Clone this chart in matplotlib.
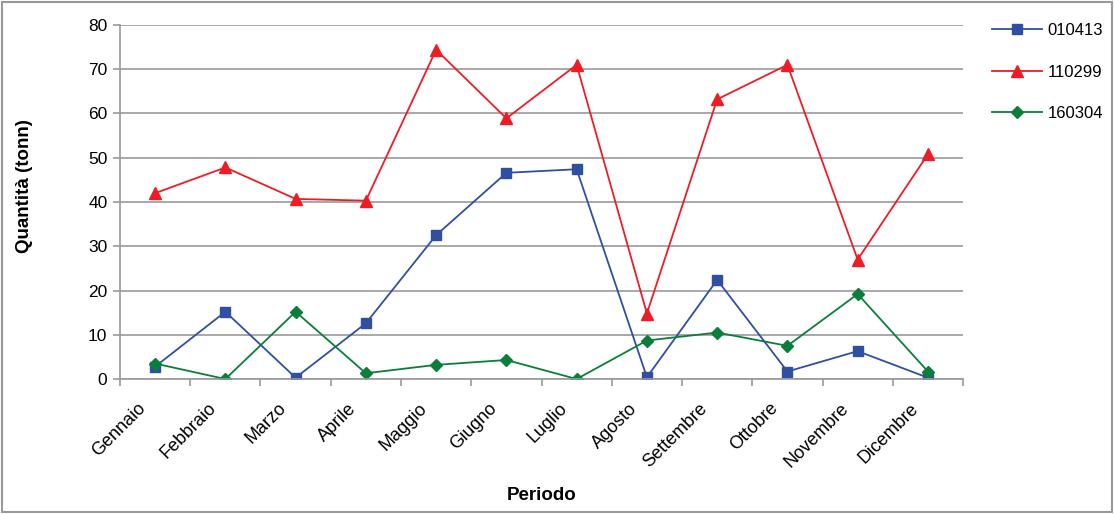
import matplotlib.pyplot as plt
import matplotlib.transforms as mtransforms
from matplotlib.patches import Rectangle

# Monthly quantities per waste code
mesi = ['Gennaio', 'Febbraio', 'Marzo', 'Aprile', 'Maggio', 'Giugno',
        'Luglio', 'Agosto', 'Settembre', 'Ottobre', 'Novembre', 'Dicembre']
q_010413 = [2.8, 15.2, 0.3, 12.6, 32.5, 46.6, 47.4, 0.4, 22.4, 1.7, 6.3, 0.3]
q_110299 = [42.0, 47.8, 40.7, 40.3, 74.4, 58.9, 71.0, 14.8, 63.2, 71.0, 27.0, 50.8]
q_160304 = [3.5, 0.0, 15.2, 1.3, 3.2, 4.3, 0.0, 8.7, 10.5, 7.5, 19.2, 1.7]

plt.rcParams['font.family'] = ['Liberation Sans', 'DejaVu Sans']

fig = plt.figure(figsize=(11.14, 5.14), dpi=100)
ax = fig.add_axes([0.1077, 0.2626, 0.7568, 0.6888])

x = list(range(len(mesi)))
ax.plot(x, q_010413, color='#2f4fa3', marker='s', markersize=7, lw=1.3, label='010413')
ax.plot(x, q_110299, color='#ee1c25', marker='^', markersize=9, lw=1.3, label='110299')
ax.plot(x, q_160304, color='#0b7e3a', marker='D', markersize=6, lw=1.3, label='160304')

ax.set_xlim(-0.5, len(mesi) - 0.5)
ax.set_ylim(0, 80)
ax.set_yticks(range(0, 81, 10))
ax.yaxis.grid(True, color='#999999', lw=1.2)
ax.set_axisbelow(True)

# category labels at the centres, tick marks on the boundaries
ax.set_xticks(x)
ax.set_xticklabels(mesi, rotation=45, ha='right', va='top', rotation_mode='anchor', fontsize=13)
ax.tick_params(axis='x', which='major', length=0, pad=15)
shift = mtransforms.ScaledTranslation(-18 / 100, 0, fig.dpi_scale_trans)
for lab in ax.get_xticklabels():
    lab.set_transform(lab.get_transform() + shift)
ax.set_xticks([i - 0.5 for i in range(len(mesi) + 1)], minor=True)
ax.tick_params(axis='x', which='minor', length=5, color='#999999', width=1.2)
ax.tick_params(axis='y', length=5, color='#999999', width=1.2, labelsize=12.5, pad=4)

for s in ['top', 'right']:
    ax.spines[s].set_visible(False)
for s in ['left', 'bottom']:
    ax.spines[s].set_color('#999999')
    ax.spines[s].set_linewidth(1.2)

ax.set_xlabel('Periodo', fontsize=13.5, fontweight='bold')
ax.xaxis.set_label_coords(0.5, -0.305)
ax.set_ylabel('Quantità (tonn)', fontsize=13.5, fontweight='bold')
ax.yaxis.set_label_coords(-0.103, 0.545)

ax.legend(loc='upper left', bbox_to_anchor=(1.017, 1.048), frameon=False,
          fontsize=12, handlelength=3.0, labelspacing=1.6, handletextpad=0.3)

fig.patches.append(Rectangle((0.002, 0.004), 0.996, 0.992, transform=fig.transFigure,
                             fill=False, edgecolor='#999999', lw=1.5))

fig.savefig('out.png', dpi=100)
